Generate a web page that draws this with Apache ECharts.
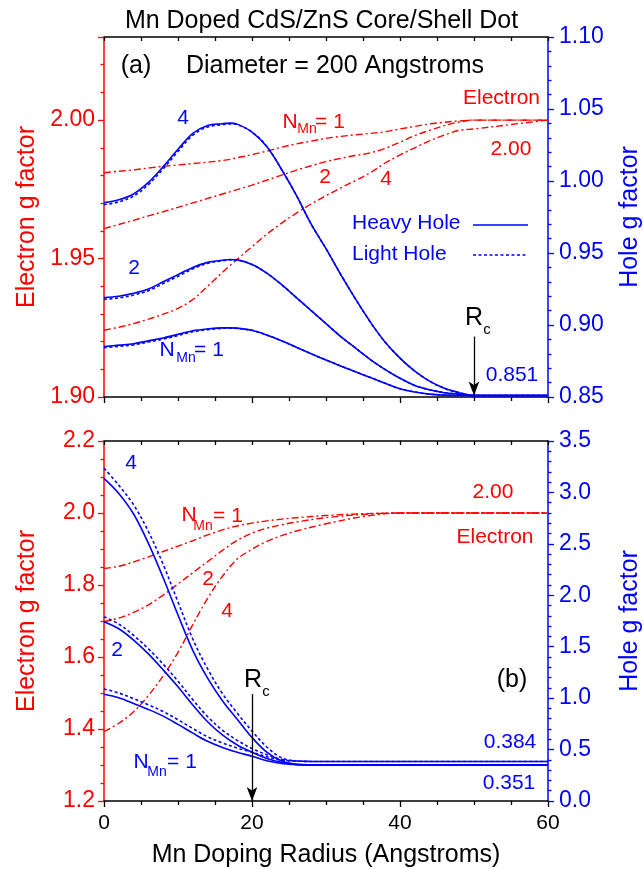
<!DOCTYPE html>
<html>
<head>
<meta charset="utf-8">
<script src="https://cdn.jsdelivr.net/npm/echarts@6/dist/echarts.min.js"></script>
<style>
  html, body { margin: 0; padding: 0; background: #ffffff; }
  #chart { width: 643px; height: 869px; }
</style>
</head>
<body>
<div id="chart"></div>
<script>
// ---- Panel (a): diameter 200 Å, g factors vs Mn doping radius ----
const X_TOP = [0, 2, 4, 6, 8, 10, 12, 14, 16, 17, 18, 20, 22, 24, 26, 28, 30, 32, 34, 36, 38, 40, 42, 44, 46, 48, 50, 55, 60];

// electron g factor (left axis), N_Mn = 1, 2, 4
const E_TOP_N1 = [1.9810, 1.9815, 1.9820, 1.9827, 1.9833, 1.9838, 1.9843, 1.9848, 1.9854, 1.9858, 1.9864, 1.9875, 1.9888, 1.9902, 1.9914, 1.9924, 1.9934, 1.9941, 1.9947, 1.9952, 1.9958, 1.9968, 1.9977, 1.9986, 1.9992, 1.9997, 2.0000, 2.0000, 2.0000];
const E_TOP_N2 = [1.9608, 1.9623, 1.9638, 1.9654, 1.9669, 1.9685, 1.9701, 1.9717, 1.9733, 1.9741, 1.9749, 1.9765, 1.9783, 1.9801, 1.9819, 1.9835, 1.9850, 1.9862, 1.9872, 1.9882, 1.9898, 1.9920, 1.9944, 1.9963, 1.9980, 1.9993, 2.0000, 2.0000, 2.0000];
const E_TOP_N4 = [1.9241, 1.9252, 1.9265, 1.9281, 1.9299, 1.9320, 1.9352, 1.9400, 1.9450, 1.9474, 1.9497, 1.9543, 1.9588, 1.9628, 1.9664, 1.9697, 1.9727, 1.9755, 1.9782, 1.9810, 1.9845, 1.9874, 1.9900, 1.9925, 1.9946, 1.9963, 1.9968, 1.9984, 2.0000];

// heavy hole g factor (right axis)
const HH_TOP_N4 = [0.985, 0.987, 0.991, 0.999, 1.010, 1.022, 1.033, 1.0385, 1.0398, 1.0402, 1.0395, 1.034, 1.024, 1.008, 0.990, 0.970, 0.953, 0.935, 0.918, 0.902, 0.888, 0.877, 0.868, 0.861, 0.856, 0.853, 0.851, 0.851, 0.851];
const HH_TOP_N2 = [0.919, 0.920, 0.922, 0.925, 0.930, 0.935, 0.940, 0.9435, 0.945, 0.9455, 0.9452, 0.942, 0.936, 0.928, 0.919, 0.910, 0.901, 0.892, 0.884, 0.876, 0.869, 0.863, 0.858, 0.855, 0.853, 0.852, 0.851, 0.851, 0.851];
const HH_TOP_N1 = [0.885, 0.886, 0.887, 0.889, 0.891, 0.8935, 0.896, 0.8973, 0.898, 0.898, 0.8978, 0.8963, 0.893, 0.889, 0.8845, 0.880, 0.8757, 0.8715, 0.8675, 0.8635, 0.8595, 0.8557, 0.8535, 0.852, 0.8513, 0.851, 0.851, 0.851, 0.851];

// light hole g factor (right axis)
const LH_TOP_N4 = [0.9835, 0.9855, 0.9895, 0.9975, 1.0085, 1.0205, 1.0318, 1.0375, 1.0392, 1.0397, 1.0392, 1.034, 1.024, 1.008, 0.990, 0.970, 0.953, 0.935, 0.918, 0.902, 0.888, 0.877, 0.868, 0.861, 0.856, 0.853, 0.851, 0.851, 0.851];
const LH_TOP_N2 = [0.9178, 0.9188, 0.9208, 0.9238, 0.9288, 0.9338, 0.9390, 0.9428, 0.9446, 0.9452, 0.9450, 0.942, 0.936, 0.928, 0.919, 0.910, 0.901, 0.892, 0.884, 0.876, 0.869, 0.863, 0.858, 0.855, 0.853, 0.852, 0.851, 0.851, 0.851];
const LH_TOP_N1 = [0.8842, 0.8852, 0.8862, 0.8882, 0.8902, 0.8927, 0.8953, 0.8968, 0.8977, 0.8978, 0.8976, 0.8963, 0.893, 0.889, 0.8845, 0.880, 0.8757, 0.8715, 0.8675, 0.8635, 0.8595, 0.8557, 0.8535, 0.852, 0.8513, 0.851, 0.851, 0.851, 0.851];

// ---- Panel (b) ----
const X_BOT = [0, 2, 4, 6, 8, 10, 12, 14, 16, 18, 20, 22, 24, 26, 30, 35, 40, 50, 60];

const E_BOT_N1 = [1.846, 1.852, 1.864, 1.878, 1.893, 1.908, 1.923, 1.939, 1.953, 1.964, 1.972, 1.978, 1.983, 1.987, 1.993, 1.998, 2.000, 2.000, 2.000];
const E_BOT_N2 = [1.698, 1.708, 1.724, 1.745, 1.772, 1.803, 1.834, 1.865, 1.896, 1.924, 1.944, 1.958, 1.967, 1.975, 1.987, 1.996, 2.000, 2.000, 2.000];
const E_BOT_N4 = [1.393, 1.416, 1.448, 1.493, 1.548, 1.613, 1.690, 1.763, 1.824, 1.872, 1.899, 1.921, 1.937, 1.950, 1.970, 1.990, 2.000, 2.000, 2.000];

const HH_BOT_N4 = [3.137, 2.990, 2.790, 2.505, 2.170, 1.808, 1.465, 1.195, 0.975, 0.795, 0.617, 0.474, 0.388, 0.356, 0.351, 0.351, 0.351, 0.351, 0.351];
const HH_BOT_N2 = [1.743, 1.675, 1.565, 1.430, 1.275, 1.110, 0.934, 0.771, 0.642, 0.544, 0.473, 0.414, 0.376, 0.355, 0.351, 0.351, 0.351, 0.351, 0.351];
const HH_BOT_N1 = [1.037, 1.003, 0.948, 0.890, 0.825, 0.745, 0.660, 0.580, 0.520, 0.473, 0.436, 0.392, 0.365, 0.354, 0.351, 0.351, 0.351, 0.351, 0.351];

const LH_BOT_N4 = [3.235, 3.070, 2.880, 2.620, 2.300, 1.935, 1.575, 1.285, 1.045, 0.855, 0.680, 0.525, 0.420, 0.390, 0.384, 0.384, 0.384, 0.384, 0.384];
const LH_BOT_N2 = [1.792, 1.720, 1.610, 1.480, 1.330, 1.165, 0.985, 0.820, 0.690, 0.590, 0.510, 0.450, 0.405, 0.388, 0.384, 0.384, 0.384, 0.384, 0.384];
const LH_BOT_N1 = [1.089, 1.050, 0.995, 0.935, 0.870, 0.790, 0.705, 0.625, 0.565, 0.515, 0.475, 0.430, 0.398, 0.387, 0.384, 0.384, 0.384, 0.384, 0.384];

// critical radius markers: [x, arrow start, arrow tip] on the hole axis
const RC_TOP = [50, 0.892, 0.851];
const RC_BOT = [20, 1.04, 0.0];

const FONT = '"Liberation Sans", Arial, Helvetica, sans-serif';
const RED = '#ff0000';
const BLUE = '#0000ff';
const BLACK = '#000000';

const GRID_LEFT = 104, GRID_W = 444, GRID_H = 360;
const TOP_Y = 37, BOT_Y = 441;

function xAxisBottom(gridIndex, withLabels) {
  return {
    type: 'value', gridIndex, position: 'bottom', min: 0, max: 60, interval: 20,
    axisLine: { show: true, onZero: false, lineStyle: { color: BLACK, width: 1.5 } },
    axisTick: { show: true, inside: false, length: 6, lineStyle: { color: BLACK, width: 1.3 } },
    minorTick: { show: true, splitNumber: 4, length: 4, lineStyle: { color: BLACK, width: 1.3 } },
    splitLine: { show: false },
    axisLabel: { show: withLabels, color: BLACK, fontSize: 21, fontFamily: FONT, margin: 12 },
    name: withLabels ? 'Mn Doping Radius (Angstroms)' : '',
    nameLocation: 'middle', nameGap: 42,
    nameTextStyle: { color: BLACK, fontSize: 25, fontFamily: FONT }
  };
}
function xAxisTop(gridIndex) {
  return {
    type: 'value', gridIndex, position: 'top', min: 0, max: 60, interval: 5,
    axisLine: { show: true, onZero: false, lineStyle: { color: BLACK, width: 1.5 } },
    axisTick: { show: true, inside: true, length: 4, lineStyle: { color: BLACK, width: 1.3 } },
    splitLine: { show: false },
    axisLabel: { show: false }
  };
}
function yAxis(gridIndex, side, color, min, max, interval, minorSplit, digits, name, nameGap, hideMax) {
  return {
    type: 'value', gridIndex, position: side, min, max, interval,
    axisLine: { show: true, onZero: false, lineStyle: { color, width: 1.5 } },
    axisTick: { show: true, inside: false, length: 6, lineStyle: { color, width: 1.3 } },
    minorTick: { show: true, splitNumber: minorSplit, length: 3.5, lineStyle: { color, width: 1.3 } },
    splitLine: { show: false },
    axisLabel: {
      color, fontSize: 23, fontFamily: FONT, margin: side === 'left' ? 9 : 11,
      showMaxLabel: !hideMax,
      formatter: v => v.toFixed(digits)
    },
    name, nameLocation: 'middle', nameRotate: 90, nameGap,
    nameTextStyle: { color, fontSize: 25, fontFamily: FONT }
  };
}

function pairs(xs, ys) { return xs.map((x, i) => [x, ys[i]]); }

const STYLE_E = { color: RED, width: 1.4, type: [7, 3, 2, 3] };
const STYLE_HH = { color: BLUE, width: 1.6, type: 'solid' };
const STYLE_LH = { color: BLUE, width: 1.6, type: [3, 2.5] };

function line(xs, ys, xIdx, yIdx, style, extra) {
  return Object.assign({
    type: 'line', xAxisIndex: xIdx, yAxisIndex: yIdx,
    data: pairs(xs, ys), symbol: 'none', showSymbol: false, smooth: 0.35,
    lineStyle: style, silent: true, z: 3
  }, extra || {});
}

function rcArrow(rc) {
  return {
    silent: true, animation: false,
    label: { show: false },
    lineStyle: { color: BLACK, width: 1.3, type: 'solid' },
    emphasis: { disabled: true },
    data: [[
      { coord: [rc[0], rc[1]], symbol: 'none' },
      { coord: [rc[0], rc[2]], symbol: 'arrow', symbolSize: [8, 14] }
    ]]
  };
}

function txt(x, y, s, color, size, align) {
  return {
    type: 'text', x, y, z: 10, silent: true,
    style: { text: s, fill: color, fontSize: size, fontFamily: FONT,
             align: align || 'center', verticalAlign: 'middle' }
  };
}
function seg(x1, y1, x2, y2, dash) {
  return {
    type: 'line', z: 10, silent: true,
    shape: { x1, y1, x2, y2 },
    style: { stroke: BLUE, lineWidth: 1.6, lineDash: dash || null }
  };
}

const option = {
  animation: false,
  backgroundColor: '#ffffff',
  title: {
    text: 'Mn Doped CdS/ZnS Core/Shell Dot', left: 'center', top: 4,
    textStyle: { color: BLACK, fontSize: 25, fontWeight: 'normal', fontFamily: FONT }
  },
  grid: [
    { left: GRID_LEFT, top: TOP_Y, width: GRID_W, height: GRID_H, containLabel: false, outerBoundsMode: 'none' },
    { left: GRID_LEFT, top: BOT_Y, width: GRID_W, height: GRID_H, containLabel: false, outerBoundsMode: 'none' }
  ],
  xAxis: [xAxisBottom(0, false), xAxisTop(0), xAxisBottom(1, true), xAxisTop(1)],
  yAxis: [
    yAxis(0, 'left', RED, 1.90, 2.03, 0.05, 5, 2, 'Electron g factor', 64, true),
    yAxis(0, 'right', BLUE, 0.85, 1.10, 0.05, 5, 2, 'Hole g factor', 70, false),
    yAxis(1, 'left', RED, 1.2, 2.2, 0.2, 4, 1, 'Electron g factor', 64, false),
    yAxis(1, 'right', BLUE, 0.0, 3.5, 0.5, 5, 1, 'Hole g factor', 70, false)
  ],
  series: [
    line(X_TOP, E_TOP_N1, 0, 0, STYLE_E),
    line(X_TOP, E_TOP_N2, 0, 0, STYLE_E),
    line(X_TOP, E_TOP_N4, 0, 0, STYLE_E),
    line(X_TOP, LH_TOP_N4, 0, 1, STYLE_LH),
    line(X_TOP, LH_TOP_N2, 0, 1, STYLE_LH),
    line(X_TOP, LH_TOP_N1, 0, 1, STYLE_LH),
    line(X_TOP, HH_TOP_N4, 0, 1, STYLE_HH),
    line(X_TOP, HH_TOP_N2, 0, 1, STYLE_HH),
    line(X_TOP, HH_TOP_N1, 0, 1, STYLE_HH, { markLine: rcArrow(RC_TOP) }),

    line(X_BOT, E_BOT_N1, 2, 2, STYLE_E),
    line(X_BOT, E_BOT_N2, 2, 2, STYLE_E),
    line(X_BOT, E_BOT_N4, 2, 2, STYLE_E),
    line(X_BOT, LH_BOT_N4, 2, 3, STYLE_LH),
    line(X_BOT, LH_BOT_N2, 2, 3, STYLE_LH),
    line(X_BOT, LH_BOT_N1, 2, 3, STYLE_LH),
    line(X_BOT, HH_BOT_N4, 2, 3, STYLE_HH),
    line(X_BOT, HH_BOT_N2, 2, 3, STYLE_HH),
    line(X_BOT, HH_BOT_N1, 2, 3, STYLE_HH, { markLine: rcArrow(RC_BOT) })
  ],
  graphic: [
    // panel (a) annotations
    txt(136, 66, '(a)', BLACK, 25),
    txt(335, 66, 'Diameter = 200 Angstroms', BLACK, 25),
    txt(540, 98, 'Electron', RED, 21, 'right'),
    txt(290, 122, 'N', RED, 21),
    txt(307, 129, 'Mn', RED, 14),
    txt(330, 122, '= 1', RED, 21),
    txt(183, 118, '4', BLUE, 21),
    txt(325, 177, '2', RED, 21),
    txt(386, 179, '4', RED, 21),
    txt(511, 149, '2.00', RED, 21),
    txt(134, 268, '2', BLUE, 21),
    txt(167, 350, 'N', BLUE, 21),
    txt(186, 358, 'Mn', BLUE, 14),
    txt(209, 350, '= 1', BLUE, 21),
    txt(352, 223, 'Heavy Hole', BLUE, 21, 'left'),
    seg(473, 225, 528, 225),
    txt(352, 254, 'Light Hole', BLUE, 21, 'left'),
    seg(473, 255, 528, 255, [3, 2.5]),
    txt(474, 318, 'R', BLACK, 25),
    txt(487, 330, 'c', BLACK, 15),
    txt(512, 375, '0.851', BLUE, 21),

    // panel (b) annotations
    txt(131, 463, '4', BLUE, 21),
    txt(189, 515, 'N', RED, 21),
    txt(203, 526, 'Mn', RED, 14),
    txt(228, 516, '= 1', RED, 21),
    txt(208, 579, '2', RED, 21),
    txt(227, 611, '4', RED, 21),
    txt(493, 492, '2.00', RED, 21),
    txt(495, 537, 'Electron', RED, 21),
    txt(117, 650, '2', BLUE, 21),
    txt(141, 762, 'N', BLUE, 21),
    txt(157, 772, 'Mn', BLUE, 14),
    txt(182, 762, '= 1', BLUE, 21),
    txt(253, 680, 'R', BLACK, 25),
    txt(266, 692, 'c', BLACK, 15),
    txt(512, 680, '(b)', BLACK, 25),
    txt(510, 742, '0.384', BLUE, 21),
    txt(509, 783, '0.351', BLUE, 21)
  ]
};

const chart = echarts.init(document.getElementById('chart'), null, { renderer: 'canvas' });
chart.setOption(option);
</script>
</body>
</html>
